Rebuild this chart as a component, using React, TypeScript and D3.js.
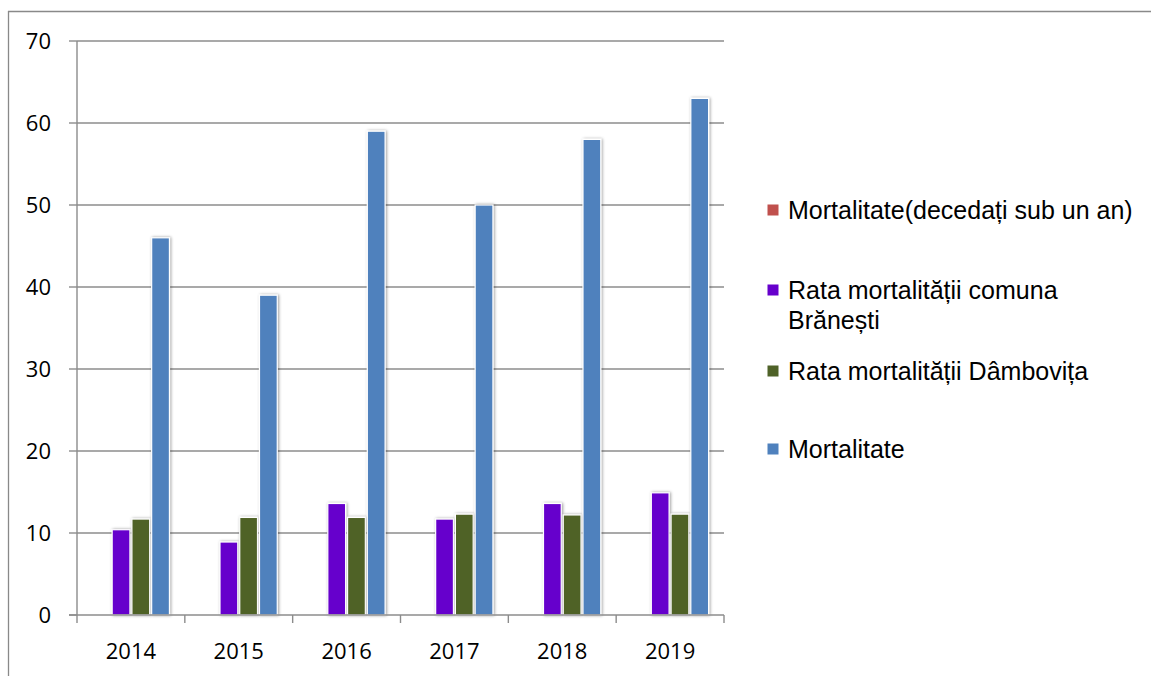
import React from "react";
import * as d3 from "d3";

const years = ["2014", "2015", "2016", "2017", "2018", "2019"];
const seriesNames = [
  "Mortalitate(decedați sub un an)",
  "Rata mortalității comuna Brănești",
  "Rata mortalității Dâmbovița",
  "Mortalitate",
];
const infantMortality = [0, 0, 0, 0, 0, 0];
const rateBranesti = [10.4, 8.9, 13.6, 11.7, 13.6, 14.9];
const rateDambovita = [11.7, 11.9, 11.9, 12.3, 12.2, 12.3];
const mortality = [46, 39, 59, 50, 58, 63];
const seriesColors = ["#C0504D", "#6600CC", "#4F6228", "#4F81BD"];
const yTicks = [0, 10, 20, 30, 40, 50, 60, 70];

const legendLines = [
  ["Mortalitate(decedați sub un an)"],
  ["Rata mortalității comuna", "Brănești"],
  ["Rata mortalității Dâmbovița"],
  ["Mortalitate"],
];

export default function App() {
  const W = 1151;
  const H = 676;
  const left = 77;
  const right = 724;
  const top = 41;
  const bottom = 615;
  const values = [infantMortality, rateBranesti, rateDambovita, mortality];

  const x0 = d3.scaleBand<string>().domain(years).range([left, right]).padding(0);
  const x1 = d3
    .scaleBand<number>()
    .domain([0, 1, 2, 3])
    .range([0, x0.bandwidth()])
    .paddingInner(0.1)
    .paddingOuter(0.78);
  const y = d3.scaleLinear().domain([0, 70]).range([bottom, top]);

  const grid = "#8c8c8c";
  const axisFont = "'Open Sans', sans-serif";
  const legendFont = "'Liberation Sans', Arial, sans-serif";
  const legendY = [210, 290, 371, 449];

  return (
    <svg
      width={W}
      height={H}
      style={{ position: "absolute", left: 0, top: 0, background: "#fff" }}
    >
      <defs>
        <filter id="sh" x="-40%" y="-10%" width="180%" height="120%">
          <feDropShadow dx="1" dy="0" stdDeviation="1.8" floodColor="#000" floodOpacity="0.4" />
        </filter>
      </defs>
      {/* outer frame */}
      <line x1={8} x2={W} y1={11.5} y2={11.5} stroke="#898989" strokeWidth={1.3} />
      <line x1={8.5} x2={8.5} y1={11} y2={H} stroke="#898989" strokeWidth={1.3} />

      {/* gridlines */}
      {yTicks.map((t) => (
        <g key={t}>
          {t > 0 && (
            <line x1={left} x2={right} y1={y(t)} y2={y(t)} stroke={grid} strokeWidth={1.4} />
          )}
          <line x1={69} x2={left} y1={y(t)} y2={y(t)} stroke={grid} strokeWidth={1.4} />
          <text
            x={51}
            y={y(t)}
            dy="0.36em"
            textAnchor="end"
            fontFamily={axisFont}
            fontSize={22}
            fill="#000"
          >
            {t}
          </text>
        </g>
      ))}

      {/* bars */}
      {years.map((yr, i) => (
        <g key={yr} transform={`translate(${x0(yr)},0)`}>
          {values.map((vals, s) =>
            vals[i] > 0 ? (
              <rect
                key={s}
                x={x1(s)}
                y={y(vals[i])}
                width={x1.bandwidth()}
                height={y(0) - y(vals[i])}
                fill={seriesColors[s]}
                stroke="#fff"
                strokeWidth={1.2}
                filter="url(#sh)"
              />
            ) : null
          )}
        </g>
      ))}

      {/* axes */}
      <line x1={left} x2={left} y1={top} y2={bottom} stroke={grid} strokeWidth={1.4} />
      <line x1={69} x2={right} y1={bottom} y2={bottom} stroke={grid} strokeWidth={1.4} />
      {[...years.map((yr) => x0(yr) as number), right].map((xv, k) => (
        <line key={k} x1={xv} x2={xv} y1={bottom} y2={623} stroke={grid} strokeWidth={1.4} />
      ))}
      {years.map((yr) => (
        <text
          key={yr}
          x={(x0(yr) as number) + x0.bandwidth() / 2}
          y={659}
          textAnchor="middle"
          fontFamily={axisFont}
          fontSize={22}
          fill="#000"
        >
          {yr}
        </text>
      ))}

      {/* legend */}
      {seriesNames.map((name, s) => (
        <g key={name}>
          <rect
            x={767.5}
            y={legendY[s] - 5.5}
            width={11}
            height={11}
            fill={seriesColors[s]}
          />
          {legendLines[s].map((ln, j) => (
            <text
              key={j}
              x={788}
              y={legendY[s] + 8.5 + j * 30}
              fontFamily={legendFont}
              fontSize={25}
              fill="#000"
            >
              {ln}
            </text>
          ))}
        </g>
      ))}
    </svg>
  );
}
